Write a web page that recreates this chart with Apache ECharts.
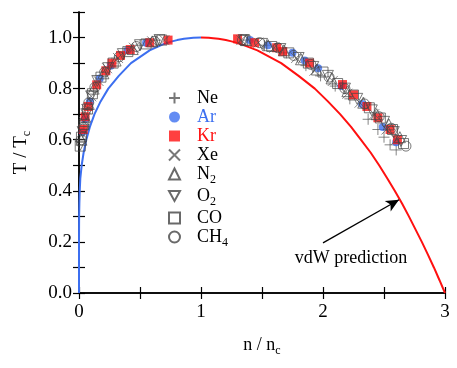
<!DOCTYPE html>
<html><head><meta charset="utf-8">
<script src="https://cdn.jsdelivr.net/npm/echarts@6/dist/echarts.min.js"></script>
<style>html,body{margin:0;padding:0;background:#fff}#c{width:457px;height:368px}</style>
</head><body><div id="c"></div>
<script>
// van der Waals coexistence curve: [n/nc, T/Tc]
const vdwGas = [[0,0],[0,0.2],[0.001,0.3],[0.003,0.35],[0.006,0.4],[0.011,0.45],[0.022,0.5],[0.038,0.55],[0.060,0.6],[0.089,0.65],[0.127,0.7],[0.177,0.75],[0.240,0.8],[0.326,0.85],[0.426,0.9],[0.579,0.95],[0.697,0.975],[0.762,0.985],[0.8045,0.99],[0.861,0.995],[0.9,0.9975],[0.937,0.999],[1,1]];
const vdwLiquid = [[1,1],[1.063,0.999],[1.1,0.9975],[1.143,0.995],[1.2035,0.99],[1.25,0.985],[1.323,0.975],[1.462,0.95],[1.657,0.9],[1.80,0.85],[1.933,0.8],[2.04,0.75],[2.14,0.7],[2.23,0.65],[2.31,0.6],[2.39,0.55],[2.46,0.5],[2.525,0.45],[2.588,0.4],[2.648,0.35],[2.704,0.3],[2.757,0.25],[2.81,0.2],[2.86,0.15],[2.909,0.1],[2.955,0.05],[3,0]];

// experimental points [n/nc, T/Tc]
const ne = [[0.04,0.66],[0.07,0.72],[0.12,0.79],[0.19,0.85],[0.27,0.90],[0.37,0.94],[0.50,0.97],[0.63,0.99],
  [1.38,0.99],[1.52,0.97],[1.70,0.94],[1.86,0.89],[1.98,0.85],[2.10,0.81],[2.22,0.76],[2.37,0.68],[2.45,0.64],[2.50,0.61],[2.55,0.58],[2.60,0.56]];
const ar = [[0.03,0.63],[0.05,0.68],[0.09,0.75],[0.17,0.84],[0.26,0.89],[0.40,0.95],[0.55,0.98],
  [1.40,0.99],[1.55,0.97],[1.75,0.94],[1.85,0.91],[1.96,0.88],[2.15,0.81],[2.32,0.74],[2.49,0.65],[2.60,0.59]];
const kr = [[0.035,0.64],[0.05,0.69],[0.075,0.73],[0.145,0.815],[0.22,0.87],[0.27,0.90],[0.34,0.93],[0.42,0.953],[0.58,0.98],[0.73,0.99],
  [1.30,0.995],[1.44,0.98],[1.62,0.96],[1.67,0.945],[1.89,0.90],[2.16,0.816],[2.25,0.776],[2.36,0.73],[2.45,0.686],[2.55,0.64],[2.61,0.60]];
const xe = [[0.04,0.67],[0.06,0.72],[0.10,0.77],[0.16,0.83],[0.23,0.88],[0.32,0.92],[0.45,0.96],[0.60,0.985],[0.70,0.99],
  [1.33,0.99],[1.47,0.98],[1.60,0.96],[1.78,0.92],[1.93,0.87],[2.08,0.83],[2.20,0.78],[2.30,0.745],[2.42,0.70],[2.52,0.64],[2.60,0.60]];
const n2 = [[0.02,0.60],[0.05,0.69],[0.08,0.74],[0.12,0.80],[0.20,0.86],[0.30,0.91],[0.44,0.955],[0.60,0.985],
  [1.37,0.99],[1.55,0.97],[1.68,0.95],[1.82,0.915],[1.95,0.875],[2.07,0.84],[2.20,0.79],[2.33,0.745],[2.44,0.70],[2.54,0.66],[2.63,0.61]];
const o2 = [[0.01,0.58],[0.03,0.63],[0.06,0.70],[0.10,0.77],[0.15,0.83],[0.24,0.88],[0.36,0.935],[0.50,0.97],[0.66,0.99],
  [1.35,0.99],[1.50,0.975],[1.65,0.955],[1.80,0.92],[1.92,0.885],[2.04,0.85],[2.18,0.80],[2.28,0.76],[2.40,0.715],[2.50,0.67],[2.58,0.63],[2.64,0.595]];
const co = [[0.01,0.575],[0.02,0.61],[0.04,0.66],[0.07,0.72],[0.11,0.78],[0.18,0.845],[0.28,0.90],[0.40,0.945],[0.55,0.975],[0.68,0.99],
  [1.36,0.99],[1.58,0.965],[1.72,0.94],[1.88,0.90],[2.00,0.865],[2.12,0.82],[2.25,0.775],[2.38,0.725],[2.47,0.685],[2.57,0.64],[2.66,0.585]];
const ch4 = [[0.02,0.60],[0.04,0.65],[0.08,0.745],[0.13,0.805],[0.21,0.865],[0.33,0.925],[0.47,0.965],[0.62,0.985],
  [1.34,0.99],[1.48,0.98],[1.63,0.96],[1.76,0.93],[1.90,0.895],[2.05,0.845],[2.18,0.80],[2.34,0.74],[2.46,0.69],[2.56,0.645],[2.68,0.575]];

const arrowStart = [2.0, 0.196];
const arrowEnd = [2.623, 0.365];
const noteLabel = 'vdW prediction';
const notePos = [2.23, 0.137];

const xTicks = [0, 1, 2, 3];
const yTicks = [0.0, 0.2, 0.4, 0.6, 0.8, 1.0];

const FONT = 'Liberation Serif';
const BLUE = '#3c6ff0';
const RED = '#ff1010';
const GREY = '#444';

const chart = echarts.init(document.getElementById('c'), null, {renderer: 'canvas'});

const subs = {N2: ['N', '2'], O2: ['O', '2'], CH4: ['CH', '4']};
function openStyle() { return {color: 'rgba(255,255,255,0)', borderColor: GREY, borderWidth: 0.9}; }

const axisCommon = {
  axisLine: {show: true, lineStyle: {color: '#000', width: 1.5}},
  axisTick: {show: true, inside: true, length: 6, lineStyle: {color: '#000', width: 1.2}},
  splitLine: {show: false}
};

chart.setOption({
  animation: false,
  backgroundColor: '#fff',
  grid: {left: 79, right: 12, top: 12, bottom: 75, containLabel: false},
  xAxis: [
    Object.assign({
      type: 'value', min: 0, max: 3, interval: 0.5, position: 'bottom',
      name: '{t|n / n}{s|c}', nameLocation: 'middle', nameGap: 40,
      nameTextStyle: {color: '#000', fontFamily: FONT, fontSize: 18,
        rich: {t: {fontFamily: FONT, fontSize: 18, color: '#000'}, s: {fontFamily: FONT, fontSize: 12, color: '#000', padding: [12, 0, 0, 0]}}},
      axisLabel: {color: '#000', fontFamily: FONT, fontSize: 19, margin: 10,
        formatter: v => (xTicks.some(t => Math.abs(t - v) < 1e-9) ? String(v) : '')}
    }, axisCommon),
    Object.assign({type: 'value', min: 0, max: 3, interval: 0.5, position: 'top', axisLabel: {show: false}}, axisCommon)
  ],
  yAxis: [
    Object.assign({
      type: 'value', min: 0, max: 1.1, interval: 0.1, position: 'left',
      name: '{t|T / T}{s|c}', nameLocation: 'middle', nameGap: 46, nameRotate: 90,
      nameTextStyle: {color: '#000', fontFamily: FONT, fontSize: 19,
        rich: {t: {fontFamily: FONT, fontSize: 19, color: '#000'}, s: {fontFamily: FONT, fontSize: 12, color: '#000', padding: [12, 0, 0, 0]}}},
      axisLabel: {color: '#000', fontFamily: FONT, fontSize: 19, margin: 7,
        formatter: v => {
          const t = yTicks.find(t => Math.abs(t - v) < 1e-6);
          return t === undefined ? '' : t.toFixed(1);
        }}
    }, axisCommon),
    Object.assign({type: 'value', min: 0, max: 1.1, interval: 0.1, position: 'right', axisLabel: {show: false}}, axisCommon)
  ],
  legend: {
    orient: 'vertical', left: 163, top: 84, itemWidth: 11, itemHeight: 11, itemGap: 1,
    textStyle: {color: '#000', fontFamily: FONT, fontSize: 18,
      rich: {m: {fontFamily: FONT, fontSize: 18, padding: [0, 0, 0, 12]},
             s: {fontFamily: FONT, fontSize: 12, padding: [12, 0, 0, 0]}}},
    formatter: name => subs[name] ? `{m|${subs[name][0]}}{s|${subs[name][1]}}` : `{m|${name}}`,
    data: [
      {name: 'Ne'},
      {name: 'Ar', textStyle: {color: BLUE}},
      {name: 'Kr', textStyle: {color: RED}},
      {name: 'Xe'}, {name: 'N2'}, {name: 'O2'}, {name: 'CO'}, {name: 'CH4'}
    ]
  },
  series: [
    {name: 'vdW gas', type: 'line', data: vdwGas, showSymbol: false, symbol: 'none', z: 1,
      lineStyle: {color: BLUE, width: 2}},
    {name: 'vdW liquid', type: 'line', data: vdwLiquid, showSymbol: false, symbol: 'none', z: 1,
      lineStyle: {color: RED, width: 2},
      markLine: {silent: true, symbol: ['none', 'arrow'], symbolSize: 11,
        lineStyle: {color: '#000', width: 1.3, type: 'solid'}, label: {show: false},
        data: [[{coord: arrowStart, symbol: 'none'}, {coord: arrowEnd, symbol: 'arrow', symbolSize: [9, 13]}]]},
      markPoint: {silent: true, symbol: 'circle', symbolSize: 0,
        label: {show: true, position: 'inside', formatter: noteLabel, color: '#000', fontFamily: FONT, fontSize: 18},
        data: [{coord: notePos}]}},
    {name: 'Ne', type: 'scatter', data: ne, symbol: 'path://M5,0L5,10M0,5L10,5', symbolSize: 11, z: 3,
      itemStyle: {color: 'rgba(255,255,255,0)', borderColor: '#555', borderWidth: 0.9}},
    {name: 'Ar', type: 'scatter', data: ar, symbol: 'circle', symbolSize: 8, z: 3, itemStyle: {color: BLUE}},
    {name: 'Kr', type: 'scatter', data: kr, symbol: 'rect', symbolSize: 9, z: 3, itemStyle: {color: RED}},
    {name: 'Xe', type: 'scatter', data: xe, symbol: 'path://M0,0L10,10M10,0L0,10', symbolSize: 10, z: 3,
      itemStyle: {color: 'rgba(255,255,255,0)', borderColor: '#555', borderWidth: 0.9}},
    {name: 'N2', type: 'scatter', data: n2, symbol: 'triangle', symbolSize: 11, z: 3, itemStyle: openStyle()},
    {name: 'O2', type: 'scatter', data: o2, symbol: 'path://M0,0L10,0L5,9Z', symbolSize: 11, z: 3, itemStyle: openStyle()},
    {name: 'CO', type: 'scatter', data: co, symbol: 'rect', symbolSize: 10, z: 3, itemStyle: openStyle()},
    {name: 'CH4', type: 'scatter', data: ch4, symbol: 'circle', symbolSize: 10, z: 3, itemStyle: openStyle()}
  ]
});
</script>
</body></html>
